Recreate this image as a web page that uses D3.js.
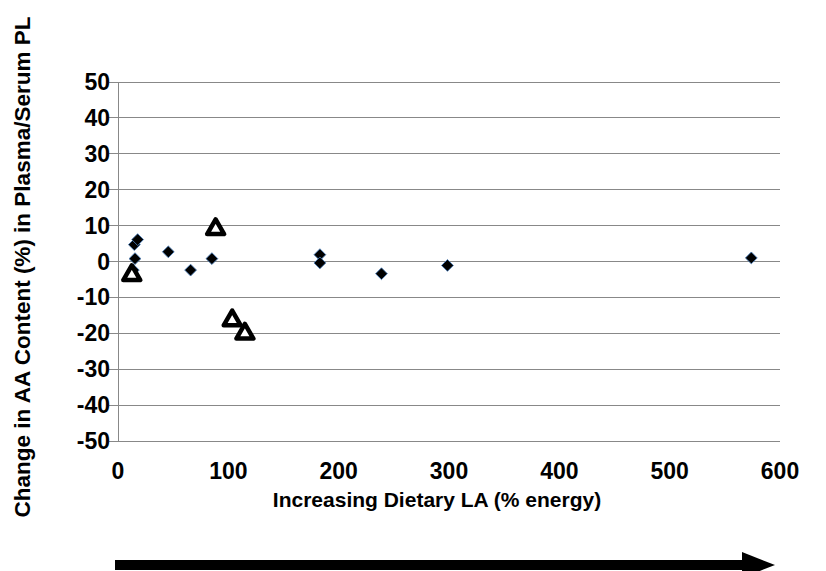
<!DOCTYPE html>
<html><head><meta charset="utf-8">
<script src="https://cdn.jsdelivr.net/npm/d3@7"></script>
<style>
html,body{margin:0;padding:0;background:#fff;}
text{font-family:"Liberation Sans",Arial,sans-serif;font-weight:bold;fill:#000;}
</style></head>
<body>
<svg id="chart" width="826" height="571"></svg>
<script>
// Data
const diamondX = [13.9, 14.8, 15.4, 17.8, 45.6, 65.8, 85.1, 183, 183, 238.8, 298.6, 574];
const diamondY = [-2.4, 4.7, 0.8, 6.1, 2.7, -2.4, 0.8, 1.9, -0.4, -3.4, -1.1, 1.0];
const triangleX = [12.5, 88.5, 103.5, 115];
const triangleY = [-3.8, 9.0, -16.4, -20.1];
const xTicks = [0, 100, 200, 300, 400, 500, 600];
const yTicks = [-50, -40, -30, -20, -10, 0, 10, 20, 30, 40, 50];
const yTitle = "Change in AA Content (%) in Plasma/Serum PL";
const xTitle = "Increasing Dietary LA (% energy)";

(function () {
const svg = d3.select("#chart");
const pL = 118, pR = 780, pT = 82, pB = 441;
const x = d3.scaleLinear().domain([0, 600]).range([pL, pR]);
const y = d3.scaleLinear().domain([-50, 50]).range([pB, pT]);

// gridlines
svg.append("g").selectAll("line").data(yTicks).join("line")
  .attr("x1", pL - 9).attr("x2", pR)
  .attr("y1", d => y(d)).attr("y2", d => y(d))
  .attr("stroke", "#888").attr("stroke-width", 1).attr("shape-rendering", "crispEdges");
// y axis line
svg.append("line").attr("x1", pL).attr("x2", pL).attr("y1", pT).attr("y2", pB)
  .attr("stroke", "#888").attr("shape-rendering", "crispEdges");

// y tick labels
svg.append("g").selectAll("text").data(yTicks).join("text")
  .attr("x", pL - 8).attr("y", d => y(d)).attr("dy", "0.35em")
  .attr("text-anchor", "end").attr("font-size", 23).text(d => d);
// x tick labels
svg.append("g").selectAll("text").data(xTicks).join("text")
  .attr("x", d => x(d)).attr("y", pB + 38)
  .attr("text-anchor", "middle").attr("font-size", 23).text(d => d);

// titles
svg.append("text").attr("transform", `translate(30,267) rotate(-90)`)
  .attr("text-anchor", "middle").attr("font-size", 22.5).text(yTitle);
svg.append("text").attr("x", 437).attr("y", 507).attr("text-anchor", "middle")
  .attr("font-size", 21).text(xTitle);

// arrow
svg.append("rect").attr("x", 115).attr("y", 560).attr("width", 630).attr("height", 10).attr("fill", "#000");
svg.append("path").attr("d", "M742,552 L775,565 L742,578 Z").attr("fill", "#000");

// diamonds
const diamonds = diamondX.map((d, i) => ({x: d, y: diamondY[i]}));
svg.append("g").selectAll("path").data(diamonds).join("path")
  .attr("d", d3.symbol().type(d3.symbolSquare).size(70))
  .attr("transform", d => `translate(${x(d.x)},${y(d.y)}) rotate(45)`)
  .attr("fill", "#000").attr("stroke", "#4a7ebb").attr("stroke-width", 0.8);

// triangles
const tris = triangleX.map((d, i) => ({x: d, y: triangleY[i]}));
svg.append("g").selectAll("path").data(tris).join("path")
  .attr("d", d3.symbol().type(d3.symbolTriangle).size(125))
  .attr("transform", d => `translate(${x(d.x)},${y(d.y)})`)
  .attr("fill", "#fff").attr("stroke", "#000").attr("stroke-width", 4.5).attr("stroke-linejoin", "round");
})();
</script>
</body></html>
